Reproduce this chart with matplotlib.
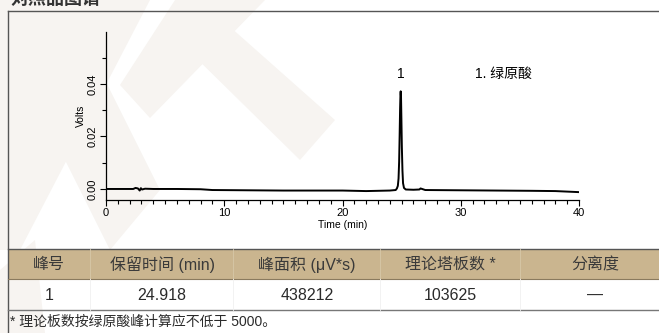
import matplotlib
matplotlib.use("Agg")
import matplotlib.pyplot as plt
from matplotlib.patches import Rectangle, Polygon
from matplotlib.lines import Line2D
from matplotlib.ticker import MultipleLocator

# ---------------- data ----------------
time_min = [0.0, 1.0, 2.0, 2.3, 2.5, 2.7, 2.85, 2.95, 3.05, 3.3, 4.0, 6.0, 8.0, 9.0, 12.0,
            15.0, 18.0, 20.0, 22.0, 24.0, 24.5, 24.6, 24.68, 24.74, 24.79, 24.83, 24.87,
            24.90, 24.92, 24.95, 24.98, 25.02, 25.07, 25.12, 25.2, 25.35, 26.0, 26.5,
            26.6, 27.0, 30.0, 33.0, 36.0, 38.0, 40.0]
volts = [0.0000, 0.0000, 0.0000, 0.0000, 0.0004, 0.0002, -0.0006, 0.0003, -0.0002, 0.0001,
         0.0000, 0.0000, -0.0001, -0.0004, -0.0005, -0.0006, -0.0006, -0.0006, -0.0008,
         -0.0006, -0.0004, 0.0002, 0.0012, 0.0040, 0.0105, 0.0200, 0.0305, 0.0360,
         0.0372, 0.0350, 0.0270, 0.0160, 0.0070, 0.0022, 0.0004, -0.0002, -0.0003,
         -0.0002, 0.0002, -0.0004, -0.0005, -0.0006, -0.0007, -0.0008, -0.0012]

peak_no = "1"
peak_time = 24.92
peak_top = 0.0372
legend_text = "1. 绿原酸"

table_header = ["峰号", "保留时间 (min)", "峰面积 (\u03bcV*s)", "理论塔板数 *", "分离度"]
table_row = ["1", "24.918", "438212", "103625", "\u2014"]
footnote = "* 理论板数按绿原酸峰计算应不低于 5000。"
title = "对照品图谱"

# ---------------- figure ----------------
W, H = 659, 333
fig = plt.figure(figsize=(W / 100, H / 100), dpi=100)
fig.patch.set_facecolor("white")
FAM = ["Liberation Sans", "Noto Sans CJK SC", "DejaVu Sans"]
plt.rcParams["font.family"] = FAM


def fx(x):
    return x / W


def fy(y):
    return 1 - y / H


tf = fig.transFigure

# watermark (light beige shapes)
wm = "#f7f4f1"
for pts in [
    [(0, 0), (150, 0), (20, 250), (0, 250)],
    [(0, 270), (35, 240), (45, 333), (0, 333)],
    [(175, 0), (265, 0), (150, 118), (120, 85)],
    [(220, 18), (335, 120), (300, 160), (188, 50)],
    [(45, 120), (95, 60), (160, 190), (110, 250)],
]:
    fig.add_artist(Polygon([(fx(a), fy(b)) for a, b in pts], closed=True,
                           transform=tf, facecolor=wm, edgecolor="none", zorder=0))

# title (cut off at the top, as in the source)
fig.text(fx(10), fy(8), title, fontsize=13, fontweight="bold", color="#333333",
         ha="left", va="bottom", family=["Noto Sans CJK SC", "DejaVu Sans"])

# outer frame
fig.add_artist(Line2D([fx(8), fx(8)], [fy(11), fy(333)], transform=tf, color="#555555", lw=1.0))
fig.add_artist(Line2D([fx(8), fx(660)], [fy(11), fy(11)], transform=tf, color="#555555", lw=1.0))

# ---------------- chromatogram ----------------
ax = fig.add_axes([fx(106), fy(200), fx(579) - fx(106), fy(32) - fy(200)])
ax.set_facecolor("none")
ax.plot(time_min, volts, color="black", lw=1.4)
ax.set_xlim(0, 40)
ax.set_ylim(-0.0042, 0.0598)
for s in ["top", "right"]:
    ax.spines[s].set_visible(False)
for s in ["left", "bottom"]:
    ax.spines[s].set_linewidth(0.9)
ax.xaxis.set_major_locator(MultipleLocator(10))
ax.xaxis.set_minor_locator(MultipleLocator(1))
ax.yaxis.set_major_locator(MultipleLocator(0.02))
ax.yaxis.set_minor_locator(MultipleLocator(0.01))
ax.yaxis.set_major_formatter(matplotlib.ticker.FormatStrFormatter("%.2f"))
ax.tick_params(which="major", direction="out", length=4, width=0.8, labelsize=8, pad=2)
ax.tick_params(which="minor", direction="out", length=3, width=0.8)
for lab in ax.get_yticklabels():
    lab.set_rotation(90)
    lab.set_va("center")
ax.set_xlabel("Time (min)", fontsize=7.5, labelpad=1)
ax.set_ylabel("Volts", fontsize=7.5, labelpad=1)
ax.text(peak_time, peak_top + 0.004, peak_no, ha="center", va="bottom", fontsize=10)
ax.text(31.2, peak_top + 0.004, legend_text, ha="left", va="bottom", fontsize=10,
        family=FAM)

# ---------------- table ----------------
hdr_top, hdr_bot, row_bot = 249, 279, 310
fig.add_artist(Rectangle((fx(8), fy(hdr_bot)), fx(660) - fx(8), fy(hdr_top) - fy(hdr_bot),
                         transform=tf, facecolor="#cab58f", edgecolor="none", zorder=1))
fig.add_artist(Line2D([fx(8), fx(660)], [fy(hdr_top), fy(hdr_top)], transform=tf,
                      color="#555555", lw=1.0, zorder=2))
fig.add_artist(Line2D([fx(8), fx(660)], [fy(hdr_bot), fy(hdr_bot)], transform=tf,
                      color="#8a7a5e", lw=0.8, zorder=2))
fig.add_artist(Line2D([fx(8), fx(660)], [fy(row_bot), fy(row_bot)], transform=tf,
                      color="#777777", lw=1.0, zorder=2))
for xb in [90, 233, 380, 520]:
    fig.add_artist(Line2D([fx(xb), fx(xb)], [fy(hdr_top), fy(hdr_bot)], transform=tf,
                          color="#d6c7a8", lw=0.6, zorder=2))
    fig.add_artist(Line2D([fx(xb), fx(xb)], [fy(hdr_bot), fy(row_bot)], transform=tf,
                          color="#f0f0f0", lw=0.6, zorder=2))

col_x = [49, 162, 307, 450, 595]
for cx, h, v in zip(col_x, table_header, table_row):
    fig.text(fx(cx), fy(264.5), h, ha="center", va="center", fontsize=11.5, color="#3a3a3a",
             family=FAM, zorder=3)
    fig.text(fx(cx), fy(295), v, ha="center", va="center", fontsize=11.5, color="#2a2a2a",
             family=FAM, zorder=3)

fig.text(fx(10), fy(322), footnote, ha="left", va="center", fontsize=10, color="#2a2a2a",
         family=FAM)

fig.savefig("out.png", dpi=100)
